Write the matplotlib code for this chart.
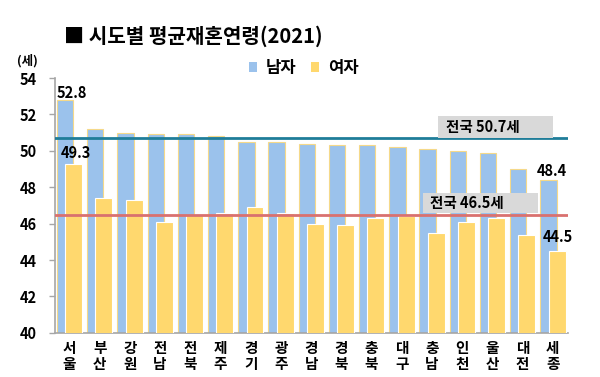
import matplotlib
matplotlib.use("Agg")
import matplotlib.pyplot as plt
from matplotlib.patches import Rectangle, Patch
import numpy as np

plt.rcParams['font.family'] = ['Noto Sans CJK KR', 'DejaVu Sans']

regions = ["서울", "부산", "강원", "전남", "전북", "제주", "경기", "광주", "경남",
           "경북", "충북", "대구", "충남", "인천", "울산", "대전", "세종"]
male = [52.8, 51.2, 51.0, 50.9, 50.9, 50.8, 50.5, 50.5, 50.4,
        50.3, 50.3, 50.2, 50.1, 50.0, 49.9, 49.0, 48.4]
female = [49.3, 47.4, 47.3, 46.1, 46.5, 46.6, 46.9, 46.6, 46.0,
          45.9, 46.3, 46.4, 45.5, 46.1, 46.3, 45.4, 44.5]
national_male = 50.7
national_female = 46.5
yticks = [40, 42, 44, 46, 48, 50, 52, 54]

BLUE = "#9BC2EC"
YELLOW = "#FFD86E"
TEAL = "#1F7D99"
RED = "#D9716F"

fig = plt.figure(figsize=(6.0, 3.77), dpi=100)
ax = fig.add_axes([0.092, 0.117, 0.855, 0.676])

x = np.arange(len(regions))
ax.bar(x - 0.143, male, width=0.54, color=BLUE, edgecolor="#F5D98A",
       linewidth=0.8, zorder=2)
ax.bar(x + 0.143, female, width=0.56, color=YELLOW, edgecolor="white",
       linewidth=0.8, zorder=3)

ax.axhline(national_male, color=TEAL, linewidth=2.0, zorder=4)
ax.axhline(national_female, color=RED, linewidth=2.0, zorder=4)

ax.set_ylim(40, 54)
ax.set_xlim(-0.47, 16.51)
ax.set_yticks(yticks)
ax.set_yticklabels([str(t) for t in yticks], fontsize=10.5, fontweight="bold")
ax.set_xticks(x)
ax.set_xticklabels(["\n".join(r) for r in regions], fontsize=10.5,
                   fontweight="bold", linespacing=1.0)
ax.tick_params(axis="x", length=0, pad=5)
ax.tick_params(axis="y", length=4, width=1, color="#A6A6A6", pad=9)
for s in ["top", "right"]:
    ax.spines[s].set_visible(False)
for s in ["left", "bottom"]:
    ax.spines[s].set_color("#A6A6A6")
    ax.spines[s].set_linewidth(1.2)

# national labels
ax.add_patch(Rectangle((12.2, 50.72), 3.8, 1.18, facecolor="#D9D9D9",
                       edgecolor="none", zorder=5))
ax.text(12.45, 51.3, "전국 50.7세", fontsize=10.5, fontweight="bold",
        va="center", ha="left", zorder=6)
ax.add_patch(Rectangle((11.7, 46.6), 3.8, 1.1, facecolor="#D9D9D9",
                       edgecolor="none", zorder=5))
ax.text(11.95, 47.15, "전국 46.5세", fontsize=10.5, fontweight="bold",
        va="center", ha="left", zorder=6)

# value labels
ax.text(0.09, 53.2, f"{male[0]}", fontsize=10.5, fontweight="bold",
        ha="center", va="center", zorder=6)
ax.text(0.22, 49.9, f"{female[0]}", fontsize=10.5, fontweight="bold",
        ha="center", va="center", zorder=6)
ax.text(15.97, 48.9, f"{male[-1]}", fontsize=10.5, fontweight="bold",
        ha="center", va="center", zorder=6)
ax.text(16.17, 45.25, f"{female[-1]}", fontsize=10.5, fontweight="bold",
        ha="center", va="center", zorder=6)

fig.text(0.322, 0.905, "■ 시도별 평균재혼연령(2021)", fontsize=14.5,
         fontweight="bold", ha="center", va="center")
fig.text(0.045, 0.838, "(세)", fontsize=9, fontweight="bold",
         ha="center", va="center")

handles = [Patch(facecolor=BLUE, edgecolor="none", label="남자"),
           Patch(facecolor=YELLOW, edgecolor="none", label="여자")]
fig.legend(handles=handles, loc="center", bbox_to_anchor=(0.506, 0.82),
           ncol=2, frameon=False, handlelength=0.5, handleheight=0.5,
           handletextpad=0.5, columnspacing=0.9,
           prop={"size": 12, "weight": "bold"})

fig.savefig("out.png", dpi=100)
